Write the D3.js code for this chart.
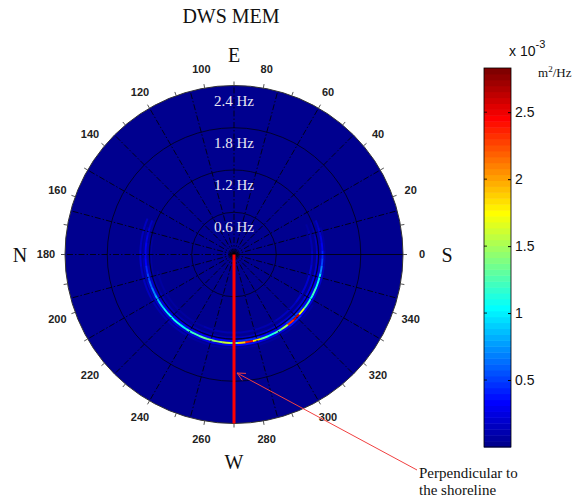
<!DOCTYPE html>
<html>
<head>
<meta charset="utf-8">
<script src="https://cdn.jsdelivr.net/npm/d3@7"></script>
<style>
  html, body { margin: 0; padding: 0; background: #fff; }
  svg { display: block; }
</style>
</head>
<body>
<div id="chart"></div>
<script>
// direction bins (deg, math convention: 0 = S on the right, counter-clockwise)
const directions = [160, 165, 170, 175, 180, 185, 190, 195, 200, 205, 210, 215, 220, 225, 230,
  235, 240, 245, 250, 255, 260, 265, 270, 275, 280, 285, 290, 295, 300, 305, 310, 315, 320,
  325, 330, 335, 340, 345, 350, 355, 0, 5, 10, 15, 20];

// spectral density (x 1e-3 m^2/Hz) along each frequency row
const mainArc = [0.15, 0.2, 0.25, 0.3, 0.3, 0.35, 0.4, 0.5, 0.6, 0.7, 0.8, 0.9, 1.0, 1.05, 1.1,
  1.0, 1.15, 1.2, 1.3, 1.4, 1.5, 1.6, 1.3, 1.9, 2.4, 1.8, 1.3, 1.1, 1.2, 1.5, 2.3, 2.6, 1.7,
  1.2, 1.1, 1.2, 1.1, 1.0, 0.7, 0.5, 0.4, 0.3, 0.25, 0.2, 0.15];
const innerHalo = [0.05, 0.06, 0.08, 0.1, 0.1, 0.12, 0.14, 0.16, 0.18, 0.2, 0.22, 0.25, 0.28, 0.28, 0.3,
  0.28, 0.3, 0.3, 0.32, 0.32, 0.35, 0.35, 0.32, 0.4, 0.45, 0.4, 0.32, 0.3, 0.3, 0.35, 0.45, 0.5, 0.4,
  0.3, 0.3, 0.3, 0.28, 0.25, 0.2, 0.15, 0.12, 0.1, 0.08, 0.06, 0.05];
const outerHalo = [0.04, 0.05, 0.06, 0.08, 0.08, 0.1, 0.1, 0.12, 0.14, 0.15, 0.18, 0.2, 0.22, 0.22, 0.24,
  0.22, 0.24, 0.25, 0.25, 0.28, 0.28, 0.3, 0.28, 0.32, 0.38, 0.32, 0.28, 0.25, 0.25, 0.28, 0.38, 0.42, 0.32,
  0.25, 0.24, 0.24, 0.22, 0.2, 0.15, 0.12, 0.1, 0.08, 0.06, 0.05, 0.04];
const ringA = [0.04, 0.04, 0.05, 0.05, 0.06, 0.06, 0.06, 0.07, 0.08, 0.08, 0.09, 0.09, 0.1, 0.1, 0.1,
  0.11, 0.11, 0.12, 0.12, 0.12, 0.13, 0.13, 0.14, 0.14, 0.15, 0.15, 0.16, 0.16, 0.18, 0.18, 0.2, 0.2, 0.22,
  0.22, 0.24, 0.25, 0.25, 0.24, 0.22, 0.2, 0.18, 0.16, 0.14, 0.1, 0.08];
const ringB = [0.02, 0.02, 0.03, 0.03, 0.04, 0.04, 0.04, 0.05, 0.05, 0.05, 0.06, 0.06, 0.06, 0.07, 0.07,
  0.08, 0.08, 0.08, 0.09, 0.09, 0.1, 0.1, 0.1, 0.1, 0.11, 0.11, 0.12, 0.12, 0.13, 0.14, 0.15, 0.16, 0.16,
  0.18, 0.18, 0.19, 0.2, 0.19, 0.18, 0.16, 0.15, 0.13, 0.11, 0.09, 0.07];
const ringC = [0.14, 0.15, 0.16, 0.17, 0.18, 0.18, 0.17, 0.16, 0.15, 0.14, 0.13, 0.12, 0.11, 0.1, 0.1,
  0.09, 0.09, 0.08, 0.08, 0.08, 0.08, 0.08, 0.07, 0.07, 0.07, 0.07, 0.06, 0.06, 0.06, 0.06, 0.05, 0.05, 0.05,
  0.05, 0.04, 0.04, 0.04, 0.04, 0.03, 0.03, 0.03, 0.03, 0.03, 0.03, 0.03];

const rows = [
  { freq: 1.11, values: ringB },
  { freq: 1.18, values: ringA },
  { freq: 1.33, values: ringC },
  { freq: 1.228, values: innerHalo },
  { freq: 1.286, values: outerHalo },
  { freq: 1.257, values: mainArc },
];

const ringFreqs = [0.6, 1.2, 1.8, 2.4];
const ringLabels = ['0.6 Hz', '1.2 Hz', '1.8 Hz', '2.4 Hz'];
const angleLabels = [0, 20, 40, 60, 80, 100, 120, 140, 160, 180, 200, 220, 240, 260, 280, 300, 320, 340];
const compass = [['S', 0], ['E', 90], ['N', 180], ['W', 270]];
const cbTicks = [0.5, 1, 1.5, 2, 2.5];
const vMax = 2.83;

const W = 582, H = 501;
const cx = 234, cy = 254.5;
const rMax = 169;

const svg = d3.select('#chart').append('svg').attr('width', W).attr('height', H);

// MATLAB jet(64)
const jet = (v)=>{
  let j = Math.floor(v / vMax * 64) + 1;
  j = Math.max(1, Math.min(64, j));
  let r, g, b;
  if (j <= 8) { r = 0; g = 0; b = (j + 8) / 16; }
  else if (j <= 24) { r = 0; g = (j - 8) / 16; b = 1; }
  else if (j <= 40) { r = (j - 24) / 16; g = 1; b = 1 - (j - 24) / 16; }
  else if (j <= 56) { r = 1; g = 1 - (j - 40) / 16; b = 0; }
  else { r = 1 - (j - 56) / 16; g = 0; b = 0; }
  return d3.rgb(r * 255, g * 255, b * 255).toString();
};

const rScale = d3.scaleLinear().domain([0, 2.4]).range([0, rMax]);
const toRad = (deg)=>(90 - deg) * Math.PI / 180; // d3.arc angle
const pt = (deg, r)=>[cx + r * Math.cos(deg * Math.PI / 180), cy - r * Math.sin(deg * Math.PI / 180)];

const polar = svg.append('g');

// background of the spectrum (value 0)
polar.append('circle').attr('cx', cx).attr('cy', cy).attr('r', rMax).attr('fill', jet(0));

// spectrum cells
const cellArc = d3.arc();
const cells = polar.append('g').attr('transform', `translate(${cx},${cy})`);
rows.forEach((row)=>{
  row.values.forEach((v, i)=>{
    const d = directions[i];
    cells.append('path')
      .attr('d', cellArc({
        innerRadius: rScale(row.freq - 0.014),
        outerRadius: rScale(row.freq + 0.014),
        startAngle: toRad(d + 2.6),
        endAngle: toRad(d - 2.6),
      }))
      .attr('fill', jet(v));
  });
});

// grid rings
polar.selectAll('.ring').data(ringFreqs.slice(0, 3)).join('circle')
  .attr('cx', cx).attr('cy', cy).attr('r', (f)=>rScale(f))
  .attr('fill', 'none').attr('stroke', '#000').attr('stroke-width', 0.8).attr('stroke-opacity', 0.85);

// spokes every 15 deg
polar.selectAll('.spoke').data(d3.range(0, 360, 15)).join('line')
  .attr('x1', cx).attr('y1', cy)
  .attr('x2', (a)=>pt(a, rMax)[0]).attr('y2', (a)=>pt(a, rMax)[1])
  .attr('stroke', '#000').attr('stroke-width', 0.8)
  .attr('stroke-dasharray', (a)=>a === 0 ? null : '6,2,1.5,2');

// outer edge and ticks
polar.append('circle').attr('cx', cx).attr('cy', cy).attr('r', rMax)
  .attr('fill', 'none').attr('stroke', '#333').attr('stroke-width', 1);
polar.selectAll('.tick').data(d3.range(0, 360, 10)).join('line')
  .attr('x1', (a)=>pt(a, rMax)[0]).attr('y1', (a)=>pt(a, rMax)[1])
  .attr('x2', (a)=>pt(a, rMax + 4)[0]).attr('y2', (a)=>pt(a, rMax + 4)[1])
  .attr('stroke', '#555').attr('stroke-width', 1);

// ring labels
polar.selectAll('.rlab').data(ringFreqs).join('text')
  .attr('x', cx).attr('y', (f)=>cy - rScale(f) + 20)
  .attr('text-anchor', 'middle')
  .attr('font-family', 'Liberation Serif, Times New Roman, serif').attr('font-size', 15)
  .attr('fill', '#e8e8f2')
  .text((f, i)=>ringLabels[i]);

// angle labels
svg.selectAll('.alab').data(angleLabels).join('text')
  .attr('x', (a)=>pt(a, 188)[0]).attr('y', (a)=>pt(a, 188)[1])
  .attr('dy', '0.35em').attr('text-anchor', 'middle')
  .attr('font-family', 'Liberation Sans, Arial, sans-serif').attr('font-size', 11)
  .attr('font-weight', 'bold').attr('fill', '#222')
  .text((a)=>a);

// compass letters
const compassR = { S: 213, E: 200, N: 214, W: 207 };
svg.selectAll('.comp').data(compass).join('text')
  .attr('x', (c)=>pt(c[1], compassR[c[0]])[0]).attr('y', (c)=>pt(c[1], compassR[c[0]])[1])
  .attr('dy', '0.35em').attr('text-anchor', 'middle')
  .attr('font-family', 'Liberation Serif, Times New Roman, serif').attr('font-size', 20)
  .attr('fill', '#111')
  .text((c)=>c[0]);

// perpendicular line (270 deg)
const wEnd = pt(270, rMax);
svg.append('line').attr('x1', cx).attr('y1', cy).attr('x2', wEnd[0]).attr('y2', wEnd[1])
  .attr('stroke', '#ff0000').attr('stroke-width', 3);

// annotation arrow
const tip = [237, 373], tail = [417, 470];
svg.append('line').attr('x1', tail[0]).attr('y1', tail[1]).attr('x2', tip[0]).attr('y2', tip[1])
  .attr('stroke', '#f04040').attr('stroke-width', 1);
const ang = Math.atan2(tail[1] - tip[1], tail[0] - tip[0]);
[-0.45, 0.45].forEach((da)=>{
  svg.append('line').attr('x1', tip[0]).attr('y1', tip[1])
    .attr('x2', tip[0] + 9 * Math.cos(ang + da)).attr('y2', tip[1] + 9 * Math.sin(ang + da))
    .attr('stroke', '#f04040').attr('stroke-width', 1);
});
const note = svg.append('text').attr('font-family', 'Liberation Serif, Times New Roman, serif')
  .attr('font-size', 15).attr('fill', '#111');
note.append('tspan').attr('x', 419).attr('y', 478).text('Perpendicular to');
note.append('tspan').attr('x', 419).attr('y', 495).text('the shoreline');

// title
svg.append('text').attr('x', 231).attr('y', 23).attr('text-anchor', 'middle')
  .attr('font-family', 'Liberation Serif, Times New Roman, serif').attr('font-size', 20)
  .attr('fill', '#111').text('DWS MEM');

// colorbar
const cbX = 484, cbW = 27, cbTop = 68, cbBot = 447;
const cbScale = d3.scaleLinear().domain([0, vMax]).range([cbBot, cbTop]);
const cb = svg.append('g');
cb.selectAll('rect').data(d3.range(64)).join('rect')
  .attr('x', cbX).attr('width', cbW)
  .attr('y', (k)=>cbScale((k + 1) * vMax / 64))
  .attr('height', (k)=>cbScale(k * vMax / 64) - cbScale((k + 1) * vMax / 64) + 0.5)
  .attr('fill', (k)=>jet((k + 0.5) * vMax / 64));
cb.append('rect').attr('x', cbX).attr('y', cbTop).attr('width', cbW).attr('height', cbBot - cbTop)
  .attr('fill', 'none').attr('stroke', '#000').attr('stroke-width', 0.8);
const cbAxis = cb.append('g').attr('transform', `translate(${cbX + cbW},0)`)
  .call(d3.axisRight(cbScale).tickValues(cbTicks).tickSize(-3).tickPadding(4).tickFormat(d3.format('')));
cbAxis.select('.domain').remove();
cbAxis.selectAll('text').attr('font-family', 'Liberation Sans, Arial, sans-serif').attr('font-size', 14).attr('fill', '#111');
cb.selectAll('.ltick').data(cbTicks).join('line')
  .attr('x1', cbX).attr('x2', cbX + 3).attr('y1', (v)=>cbScale(v)).attr('y2', (v)=>cbScale(v))
  .attr('stroke', '#000').attr('stroke-width', 0.8);

const exp = svg.append('text').attr('x', 509).attr('y', 56)
  .attr('font-family', 'Liberation Sans, Arial, sans-serif').attr('font-size', 14).attr('fill', '#111');
exp.append('tspan').text('x 10');
exp.append('tspan').attr('dy', -8).attr('font-size', 11).text('-3');
const unit = svg.append('text').attr('x', 538).attr('y', 77)
  .attr('font-family', 'Liberation Serif, Times New Roman, serif').attr('font-size', 13).attr('fill', '#111');
unit.append('tspan').text('m');
unit.append('tspan').attr('dy', -5).attr('font-size', 9).text('2');
unit.append('tspan').attr('dy', 5).text('/Hz');
</script>
</body>
</html>
